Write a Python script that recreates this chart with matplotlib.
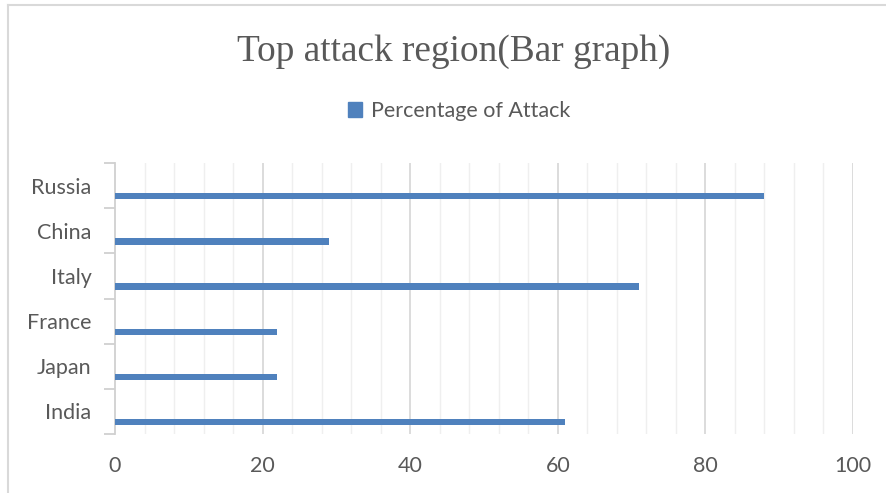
import matplotlib
matplotlib.use("Agg")
import matplotlib.pyplot as plt
from matplotlib.lines import Line2D
from matplotlib.patches import Patch
import numpy as np

categories = ["India", "Japan", "France", "Italy", "China", "Russia"]
values = [61, 22, 22, 71, 29, 88]
series_name = "Percentage of Attack"
title = "Top attack region(Bar graph)"
x_ticks = [0, 20, 40, 60, 80, 100]

W, H = 887, 493
fig = plt.figure(figsize=(W / 100, H / 100), dpi=100)
fig.patch.set_facecolor("white")

# outer chart border (left and top visible)
fig.add_artist(Line2D([8 / W, 8 / W], [0, 1 - 5 / H], color="#D9D9D9", lw=1.5))
fig.add_artist(Line2D([8 / W, 1], [1 - 5 / H, 1 - 5 / H], color="#D9D9D9", lw=1.5))

ax = fig.add_axes([115 / W, 1 - 434 / H, (853 - 115) / W, (434 - 163) / H])
text_color = "#595959"
bar_color = "#4F81BD"

y = np.arange(len(categories))
ax.barh(y - 0.235, values, height=0.14, color=bar_color, zorder=3)

ax.set_xlim(0, 100)
ax.set_ylim(-0.5, len(categories) - 0.5)

# gridlines
for v in np.arange(4, 101, 4):
    major = (v % 20 == 0)
    ax.axvline(v, color="#D9D9D9" if major else "#EFEFEF", lw=1.3 if major else 1.0, zorder=1)

for s in ["top", "right", "bottom"]:
    ax.spines[s].set_visible(False)
ax.spines["left"].set_color("#D0D0D0")
ax.spines["left"].set_linewidth(1.3)

ax.set_xticks(x_ticks)
ax.set_xticklabels([str(t) for t in x_ticks])
ax.tick_params(axis="x", length=0, pad=16, labelsize=15.5, labelcolor=text_color)

ax.set_yticks(y)
ax.set_yticklabels(categories)
ax.tick_params(axis="y", which="major", length=0, pad=17, labelsize=15.5, labelcolor=text_color)
ax.set_yticks(np.arange(-0.5, len(categories), 1), minor=True)
ax.tick_params(axis="y", which="minor", length=8, width=1.3, color="#D0D0D0")

for lab in ax.get_xticklabels() + ax.get_yticklabels():
    lab.set_fontfamily("Lato")

fig.text(454 / W, 1 - 52 / H, title, ha="center", va="center",
         fontsize=26.8, color=text_color, family="Liberation Serif")

fig.legend(handles=[Patch(facecolor=bar_color, edgecolor=bar_color, label=series_name)],
           loc="center", bbox_to_anchor=(459 / W, 1 - 111 / H), frameon=False,
           prop={"family": "Lato", "size": 15.5}, labelcolor=text_color,
           handlelength=0.65, handleheight=0.65, handletextpad=0.4)

fig.savefig("out.png", dpi=100, facecolor="white")
